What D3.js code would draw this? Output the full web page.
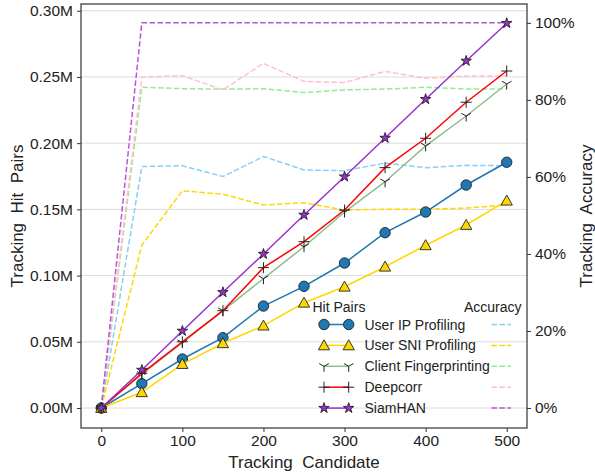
<!DOCTYPE html>
<html>
<head>
<meta charset="utf-8">
<script src="https://cdn.jsdelivr.net/npm/d3@7"></script>
<style>
  body { margin: 0; background: #fff; }
  svg text { font-family: "Liberation Sans", Arial, sans-serif; fill: #222; }
</style>
</head>
<body>
<div id="grafico"></div>
<script>
const candidates = [0, 50, 100, 150, 200, 250, 300, 350, 400, 450, 500];

// Hit pairs (millions)
const ipHits  = [0, 0.0184, 0.037, 0.0531, 0.077, 0.0919, 0.1095, 0.1324, 0.148, 0.1684, 0.1856];
const sniHits = [0, 0.0119, 0.0332, 0.0489, 0.0622, 0.0795, 0.0916, 0.1067, 0.1229, 0.1382, 0.1566];
const cfHits  = [0, 0.0255, 0.0493, 0.0735, 0.0977, 0.1218, 0.148, 0.1709, 0.198, 0.2205, 0.2447];
const dcHits  = [0, 0.0262, 0.050, 0.0735, 0.106, 0.1256, 0.1495, 0.1815, 0.2037, 0.2309, 0.2545];
const shHits  = [0, 0.0287, 0.0582, 0.0874, 0.1163, 0.1458, 0.1747, 0.2039, 0.2332, 0.2621, 0.2906];

// Accuracy
const ipAcc  = [0, 0.627, 0.629, 0.601, 0.653, 0.618, 0.616, 0.636, 0.624, 0.630, 0.629];
const sniAcc = [0, 0.423, 0.564, 0.555, 0.527, 0.533, 0.514, 0.516, 0.516, 0.519, 0.527];
const cfAcc  = [0, 0.833, 0.829, 0.828, 0.829, 0.819, 0.826, 0.828, 0.833, 0.828, 0.828];
const dcAcc  = [0, 0.859, 0.863, 0.826, 0.895, 0.848, 0.845, 0.874, 0.856, 0.862, 0.862];
const shAcc  = [0, 1, 1, 1, 1, 1, 1, 1, 1, 1, 1];

const hitTicks = [0, 0.05, 0.10, 0.15, 0.20, 0.25, 0.30];
const accTicks = [0, 0.2, 0.4, 0.6, 0.8, 1.0];
const xTicks = [0, 100, 200, 300, 400, 500];

const methods = ["User IP Profiling", "User SNI Profiling", "Client Fingerprinting", "Deepcorr", "SiamHAN"];

const series = [
  { name: methods[0], hits: ipHits,  acc: ipAcc,  line: "#1f77b4", marker: "circle",  fill: "#1f77b4", accColor: "#87cefa" },
  { name: methods[1], hits: sniHits, acc: sniAcc, line: "#ffd700", marker: "triangle", fill: "#ffd700", accColor: "#ffd700" },
  { name: methods[2], hits: cfHits,  acc: cfAcc,  line: "#8fbc8f", marker: "tri",     fill: "none",    accColor: "#90ee90" },
  { name: methods[3], hits: dcHits,  acc: dcAcc,  line: "#ff0000", marker: "plus",    fill: "none",    accColor: "#ffc0cb" },
  { name: methods[4], hits: shHits,  acc: shAcc,  line: "#9932cc", marker: "star",    fill: "#9932cc", accColor: "#ba55d3" },
];

const width = 595, height = 473;
const plot = { left: 81, right: 527, top: 4, bottom: 428 };

const svg = d3.select("#grafico").append("svg")
  .attr("width", width).attr("height", height);

const x = d3.scaleLinear().domain([-25, 525]).range([plot.left, plot.right]);
const yL = d3.scaleLinear().domain([-0.0151, 0.3051]).range([plot.bottom, plot.top]);
const yR = d3.scaleLinear().domain([-0.052, 1.049]).range([plot.bottom, plot.top]);

// grid
svg.append("g").selectAll("line").data(hitTicks).join("line")
  .attr("x1", plot.left).attr("x2", plot.right)
  .attr("y1", d => yL(d)).attr("y2", d => yL(d))
  .attr("stroke", "#dcdcdc").attr("stroke-width", 1);

// marker shapes
function markerPath(type) {
  if (type === "circle") return d3.symbol(d3.symbolCircle, 85)();
  if (type === "triangle") return "M0,-5.6L5.6,4.4L-5.6,4.4Z";
  if (type === "star") return d3.symbol(d3.symbolStar, 34)();
  if (type === "plus") return "M-5.5,0H5.5M0,-5.5V5.5";
  if (type === "tri") return "M0,0V5.5M0,0L-4.8,-2.75M0,0L4.8,-2.75";
}
function drawMarker(g, s, cx, cy) {
  const p = g.append("path").attr("d", markerPath(s.marker))
    .attr("transform", `translate(${cx},${cy})`);
  if (s.fill === "none") {
    p.attr("fill", "none").attr("stroke", "#222").attr("stroke-width", 1);
  } else {
    p.attr("fill", s.fill).attr("stroke", "#222").attr("stroke-width", 0.9);
  }
}

// accuracy dashed lines
const accLine = d3.line().x((d, i) => x(candidates[i])).y(d => yR(d));
series.forEach(s => {
  svg.append("path").datum(s.acc)
    .attr("d", accLine)
    .attr("fill", "none")
    .attr("stroke", s.accColor)
    .attr("stroke-width", 1.5)
    .attr("stroke-dasharray", "5.5,2.4");
});

// hit pair lines
const hitLine = d3.line().x((d, i) => x(candidates[i])).y(d => yL(d));
series.forEach(s => {
  svg.append("path").datum(s.hits)
    .attr("d", hitLine)
    .attr("fill", "none")
    .attr("stroke", s.line)
    .attr("stroke-width", 1.5);
  const g = svg.append("g");
  s.hits.forEach((v, i) => drawMarker(g, s, x(candidates[i]), yL(v)));
});

// frame
svg.append("rect")
  .attr("x", plot.left).attr("y", plot.top)
  .attr("width", plot.right - plot.left).attr("height", plot.bottom - plot.top)
  .attr("fill", "none").attr("stroke", "#333").attr("stroke-width", 1.2);

// axes
const fmtM = d => d.toFixed(2) + "M";
const axL = svg.append("g").attr("transform", `translate(${plot.left},0)`)
  .call(d3.axisLeft(yL).tickValues(hitTicks).tickFormat(fmtM).tickSize(4).tickPadding(4));
const axR = svg.append("g").attr("transform", `translate(${plot.right},0)`)
  .call(d3.axisRight(yR).tickValues(accTicks).tickFormat(d => Math.round(d * 100) + "%").tickSize(4).tickPadding(4));
const axB = svg.append("g").attr("transform", `translate(0,${plot.bottom})`)
  .call(d3.axisBottom(x).tickValues(xTicks).tickFormat(d3.format("d")).tickSize(4).tickPadding(3));
[axL, axR, axB].forEach(a => {
  a.select(".domain").remove();
  a.selectAll(".tick line").attr("stroke", "#333");
  a.selectAll(".tick text").style("font-size", "15.5px").attr("fill", "#222");
});

// axis titles
svg.append("text").attr("transform", `translate(17,216) rotate(-90)`)
  .attr("text-anchor", "middle").attr("dominant-baseline", "central")
  .style("font-size", "17px").text("Tracking  Hit  Pairs").style("white-space", "pre");
svg.append("text").attr("transform", `translate(586,216) rotate(-90)`)
  .attr("text-anchor", "middle").attr("dominant-baseline", "central")
  .style("font-size", "17px").text("Tracking  Accuracy").style("white-space", "pre");
svg.append("text").attr("x", x(250)).attr("y", 462)
  .attr("text-anchor", "middle").attr("dominant-baseline", "central")
  .style("font-size", "17px").text("Tracking  Candidate").style("white-space", "pre");

// legend
const lg = svg.append("g");
lg.append("text").attr("x", 312.5).attr("y", 307).attr("dominant-baseline", "central")
  .style("font-size", "14px").text("Hit Pairs");
lg.append("text").attr("x", 521.5).attr("y", 307).attr("text-anchor", "end").attr("dominant-baseline", "central")
  .style("font-size", "14px").text("Accuracy");
series.forEach((s, i) => {
  const yy = 324.5 + i * 20.9;
  lg.append("line").attr("x1", 324).attr("x2", 348.7).attr("y1", yy).attr("y2", yy)
    .attr("stroke", s.line).attr("stroke-width", 1.5);
  drawMarker(lg, s, 324, yy);
  drawMarker(lg, s, 348.7, yy);
  lg.append("text").attr("x", 364.5).attr("y", yy).attr("dominant-baseline", "central")
    .style("font-size", "14px").text(s.name);
  lg.append("line").attr("x1", 491.5).attr("x2", 511).attr("y1", yy).attr("y2", yy)
    .attr("stroke", s.accColor).attr("stroke-width", 1.5).attr("stroke-dasharray", "5.5,2.4");
});
</script>
</body>
</html>
